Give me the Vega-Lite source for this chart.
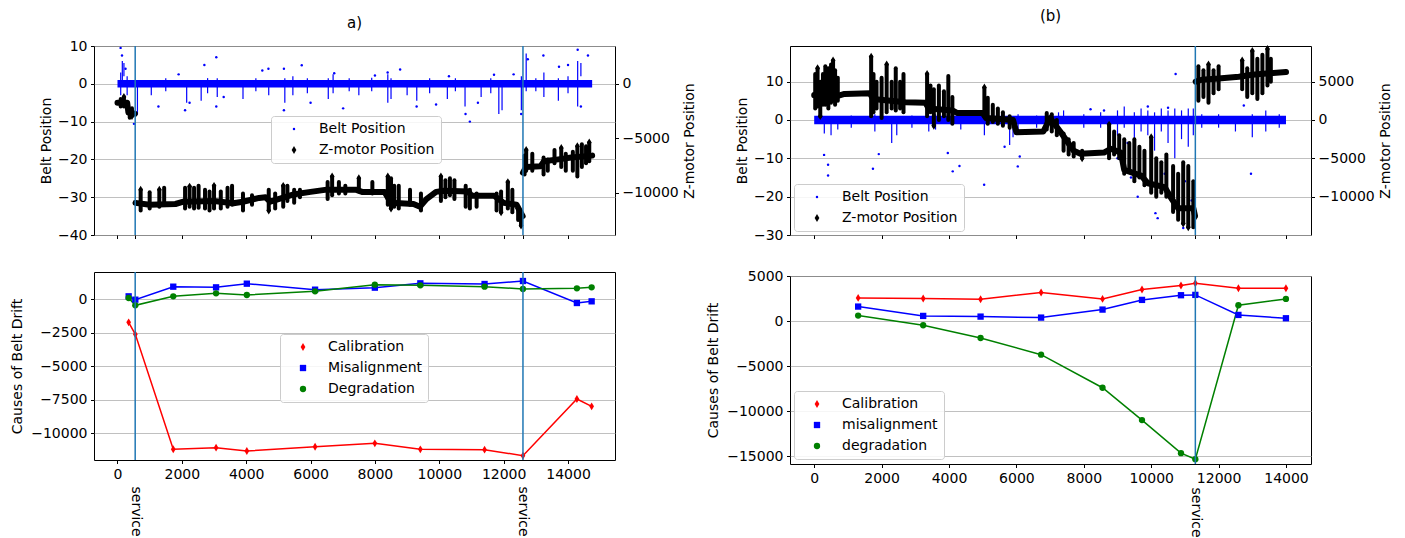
{
  "$schema": "https://vega.github.io/schema/vega-lite/v6.json",
  "background": "white",
  "padding": {"left": 10, "top": 8, "right": 5, "bottom": 0},
  "config": {
    "font": "DejaVu Sans",
    "view": {"stroke": "black", "strokeWidth": 1},
    "axis": {"labelFont": "DejaVu Sans", "labelFontSize": 14, "labelColor": "black", "titleFont": "DejaVu Sans", "titleFontSize": 14, "titleFontWeight": "normal", "titleColor": "black", "tickColor": "black", "tickSize": 3.5, "labelPadding": 3.5, "domain": false, "grid": false, "gridColor": "#b0b0b0", "gridWidth": 0.8, "labelFlush": false, "labelOverlap": false},
    "legend": {"orient": "none", "labelFont": "DejaVu Sans", "labelFontSize": 14, "labelColor": "black", "strokeColor": "#cccccc", "fillColor": "rgba(255,255,255,0.85)", "padding": 6, "cornerRadius": 3, "rowPadding": 7, "symbolOffset": 10, "labelOffset": 18, "symbolStrokeWidth": 0, "labelLimit": 300},
    "title": {"font": "DejaVu Sans", "fontSize": 15, "fontWeight": "normal", "color": "black"}
  },
  "datasets": {
    "svcA": [{"x": 550}, {"x": 12600}],
    "svcB": [{"x": 11310}],
    "aBand": [{"x": 0, "x2": 14750, "y": -1.0, "y2": 1.0}],
    "bBand": [{"x": 0, "x2": 14000, "y": -1.1, "y2": 1.1}],
    "aBlueSpk": [
      {"x": 100, "y": -3, "y2": 3}, {"x": 150, "y": 1, "y2": 6}, {"x": 200, "y": 2, "y2": 5.5}, {"x": 300, "y": -3, "y2": 2},
      {"x": 620, "y": -8, "y2": 1}, {"x": 1050, "y": -3, "y2": 1}, {"x": 1500, "y": -2, "y2": 1.5}, {"x": 2150, "y": -5, "y2": 1},
      {"x": 2600, "y": -4.5, "y2": 1}, {"x": 2800, "y": -2.5, "y2": 1.5}, {"x": 3100, "y": -3.5, "y2": 1.5}, {"x": 3900, "y": -4, "y2": 1},
      {"x": 4300, "y": -2, "y2": 1.5}, {"x": 4700, "y": -3, "y2": 1}, {"x": 5200, "y": -5, "y2": 1.5}, {"x": 5450, "y": -3, "y2": 2},
      {"x": 5900, "y": -2.5, "y2": 1.5}, {"x": 6550, "y": -4, "y2": 1.5}, {"x": 6700, "y": -2.5, "y2": 2.5}, {"x": 7200, "y": -2, "y2": 1.5},
      {"x": 7500, "y": -3, "y2": 1}, {"x": 7900, "y": -2, "y2": 1.6}, {"x": 8400, "y": -5, "y2": 2.5}, {"x": 8500, "y": -4, "y2": 1.5},
      {"x": 9000, "y": -3, "y2": 1}, {"x": 9300, "y": -4.5, "y2": 1}, {"x": 9700, "y": -2.5, "y2": 1.5}, {"x": 10250, "y": -4, "y2": 1},
      {"x": 10500, "y": -2, "y2": 1.5}, {"x": 10800, "y": -6, "y2": 1}, {"x": 11300, "y": -3.5, "y2": 1}, {"x": 11600, "y": -2.5, "y2": 1.5},
      {"x": 11850, "y": -8, "y2": 1}, {"x": 11950, "y": -7, "y2": 1}, {"x": 12550, "y": -7, "y2": 2}, {"x": 12700, "y": -2, "y2": 8},
      {"x": 13000, "y": -2, "y2": 1.5}, {"x": 13250, "y": -3.5, "y2": 3}, {"x": 13700, "y": -4.5, "y2": 1.5}, {"x": 14000, "y": -2.5, "y2": 2},
      {"x": 14300, "y": -6, "y2": 6}, {"x": 14400, "y": 2, "y2": 5.5}
    ],
    "aBlueDot": [
      {"x": 97, "y": 9.5}, {"x": 140, "y": 7.5}, {"x": 250, "y": 4}, {"x": 512, "y": -10.6}, {"x": 600, "y": -8}, {"x": 1272, "y": -6},
      {"x": 2100, "y": -7}, {"x": 2240, "y": -5}, {"x": 3070, "y": 7}, {"x": 3070, "y": -6}, {"x": 4690, "y": 4}, {"x": 5172, "y": 4},
      {"x": 5172, "y": -7}, {"x": 5726, "y": 4.9}, {"x": 6735, "y": 2.8}, {"x": 7012, "y": -6.5}, {"x": 8395, "y": 3}, {"x": 8783, "y": 3.8},
      {"x": 9295, "y": -6}, {"x": 10815, "y": -8}, {"x": 10950, "y": -10}, {"x": 12310, "y": 2.5}, {"x": 12545, "y": -8}, {"x": 12750, "y": 6.5},
      {"x": 13235, "y": 7.5}, {"x": 13720, "y": 4.5}, {"x": 14000, "y": 5}, {"x": 14300, "y": 9}, {"x": 14620, "y": 7.5}, {"x": 14400, "y": -6},
      {"x": 3300, "y": -3.5}, {"x": 4500, "y": 3.5}, {"x": 6000, "y": -5}, {"x": 9900, "y": -5.5}, {"x": 11200, "y": -5}, {"x": 2700, "y": 5},
      {"x": 1900, "y": 2.5}, {"x": 8000, "y": 2.2}, {"x": 10300, "y": 2}, {"x": 11700, "y": 2.4}
    ],
    "aZLine": [
      {"seg": 1, "x": 0, "z": -1734}, {"seg": 1, "x": 300, "z": -1734}, {"seg": 1, "x": 340, "z": -2636}, {"seg": 1, "x": 540, "z": -2740},
      {"seg": 2, "x": 560, "z": -10924}, {"seg": 2, "x": 1000, "z": -11098}, {"seg": 2, "x": 1800, "z": -11028}, {"seg": 2, "x": 2050, "z": -10820},
      {"seg": 2, "x": 3000, "z": -10751}, {"seg": 2, "x": 3600, "z": -10959}, {"seg": 2, "x": 3900, "z": -10820}, {"seg": 2, "x": 4400, "z": -10473},
      {"seg": 2, "x": 4600, "z": -10404}, {"seg": 2, "x": 4750, "z": -10820}, {"seg": 2, "x": 5500, "z": -10127}, {"seg": 2, "x": 6000, "z": -9918},
      {"seg": 2, "x": 6500, "z": -9710}, {"seg": 2, "x": 7400, "z": -9710}, {"seg": 2, "x": 7600, "z": -9918}, {"seg": 2, "x": 8300, "z": -9918},
      {"seg": 2, "x": 8500, "z": -10924}, {"seg": 2, "x": 9200, "z": -11028}, {"seg": 2, "x": 9400, "z": -11271}, {"seg": 2, "x": 9600, "z": -10577},
      {"seg": 2, "x": 9900, "z": -9918}, {"seg": 2, "x": 10150, "z": -9814}, {"seg": 2, "x": 10900, "z": -9884}, {"seg": 2, "x": 11000, "z": -10265},
      {"seg": 2, "x": 11700, "z": -10265}, {"seg": 2, "x": 12000, "z": -10924}, {"seg": 2, "x": 12400, "z": -11098}, {"seg": 2, "x": 12590, "z": -12138},
      {"seg": 3, "x": 12600, "z": -8150}, {"seg": 3, "x": 12700, "z": -7630}, {"seg": 3, "x": 13150, "z": -7560}, {"seg": 3, "x": 13250, "z": -7109},
      {"seg": 3, "x": 13700, "z": -6936}, {"seg": 3, "x": 14100, "z": -6763}, {"seg": 3, "x": 14750, "z": -6589}
    ],
    "aZSpk": [
      {"x": 100, "z": -1387, "z2": -2081}, {"x": 200, "z": -1214, "z2": -2081}, {"x": 380, "z": -2428, "z2": -3121}, {"x": 450, "z": -2254, "z2": -2948},
      {"x": 720, "z": -9710, "z2": -11618}, {"x": 1000, "z": -9953, "z2": -11444}, {"x": 1300, "z": -9710, "z2": -11271}, {"x": 1450, "z": -9537, "z2": -11098},
      {"x": 2100, "z": -9537, "z2": -11444}, {"x": 2240, "z": -9433, "z2": -11271}, {"x": 2380, "z": -9537, "z2": -11444}, {"x": 2520, "z": -9364, "z2": -11375},
      {"x": 2720, "z": -9710, "z2": -11444}, {"x": 2860, "z": -9884, "z2": -11618}, {"x": 3000, "z": -9364, "z2": -11444}, {"x": 3210, "z": -9884, "z2": -11444},
      {"x": 3420, "z": -9537, "z2": -11271}, {"x": 3560, "z": -9364, "z2": -11098}, {"x": 3900, "z": -10057, "z2": -11618}, {"x": 4180, "z": -10231, "z2": -11098},
      {"x": 4700, "z": -9710, "z2": -11618}, {"x": 4900, "z": -10057, "z2": -11444}, {"x": 5150, "z": -9364, "z2": -11271}, {"x": 5280, "z": -9364, "z2": -10751},
      {"x": 5490, "z": -9710, "z2": -10924}, {"x": 5670, "z": -9710, "z2": -10404}, {"x": 6530, "z": -9017, "z2": -10577}, {"x": 6670, "z": -8497, "z2": -10231},
      {"x": 6880, "z": -9017, "z2": -10057}, {"x": 7080, "z": -9364, "z2": -10057}, {"x": 7500, "z": -8670, "z2": -9884}, {"x": 7920, "z": -9017, "z2": -10057},
      {"x": 8400, "z": -8497, "z2": -11098}, {"x": 8500, "z": -8670, "z2": -11444}, {"x": 8600, "z": -9364, "z2": -11271}, {"x": 8740, "z": -9364, "z2": -11444},
      {"x": 9090, "z": -9710, "z2": -11098}, {"x": 9430, "z": -10057, "z2": -11618}, {"x": 10050, "z": -8497, "z2": -10751}, {"x": 10190, "z": -8843, "z2": -10404},
      {"x": 10330, "z": -8670, "z2": -10231}, {"x": 10470, "z": -8843, "z2": -10577}, {"x": 10820, "z": -9364, "z2": -11271}, {"x": 10950, "z": -9710, "z2": -11444},
      {"x": 11160, "z": -10057, "z2": -11271}, {"x": 11780, "z": -10057, "z2": -11618}, {"x": 11920, "z": -9884, "z2": -11791}, {"x": 12130, "z": -9017, "z2": -11444},
      {"x": 12270, "z": -9710, "z2": -11791}, {"x": 12450, "z": -11444, "z2": -12485}, {"x": 12540, "z": -11791, "z2": -13005},
      {"x": 12650, "z": -8323, "z2": -6589}, {"x": 12700, "z": -7976, "z2": -6069}, {"x": 12890, "z": -7976, "z2": -6416}, {"x": 13240, "z": -8323, "z2": -6763},
      {"x": 13370, "z": -7976, "z2": -6936}, {"x": 13580, "z": -7283, "z2": -6069}, {"x": 13790, "z": -7630, "z2": -5896}, {"x": 13930, "z": -7976, "z2": -6416},
      {"x": 14150, "z": -7976, "z2": -6242}, {"x": 14290, "z": -8497, "z2": -5722}, {"x": 14430, "z": -7630, "z2": -5549}, {"x": 14560, "z": -7283, "z2": -5722},
      {"x": 14660, "z": -7109, "z2": -5375}
    ],
    "aZDot": [
      {"x": 200, "z": -1214}, {"x": 450, "z": -2948}, {"x": 720, "z": -9710}, {"x": 1300, "z": -9710}, {"x": 2240, "z": -9433},
      {"x": 3000, "z": -9364}, {"x": 5150, "z": -9364}, {"x": 6670, "z": -8497}, {"x": 7500, "z": -8670}, {"x": 8400, "z": -8497},
      {"x": 10050, "z": -8497}, {"x": 12130, "z": -9017}, {"x": 12540, "z": -13005}, {"x": 14290, "z": -5722}, {"x": 14660, "z": -5375},
      {"x": 13790, "z": -5896}, {"x": 12700, "z": -6069}, {"x": 8500, "z": -11444}, {"x": 4700, "z": -11618}, {"x": 11920, "z": -11791}
    ],
    "bBlueSpk": [
      {"x": 300, "y": -3.5, "y2": 1}, {"x": 500, "y": -4, "y2": 1}, {"x": 700, "y": -2.5, "y2": 1}, {"x": 1100, "y": -2, "y2": 1.2},
      {"x": 1800, "y": -3, "y2": 1.5}, {"x": 2300, "y": -6, "y2": 1}, {"x": 2450, "y": -4, "y2": 1}, {"x": 2900, "y": -2, "y2": 1.2},
      {"x": 3400, "y": -3, "y2": 1}, {"x": 3600, "y": -2.5, "y2": 1.5}, {"x": 4350, "y": -2.5, "y2": 1}, {"x": 5050, "y": -4, "y2": 1},
      {"x": 5800, "y": -6.5, "y2": 1}, {"x": 5900, "y": -4.5, "y2": 1}, {"x": 6050, "y": -3, "y2": 1.5}, {"x": 6600, "y": -2, "y2": 1.2},
      {"x": 7250, "y": -3, "y2": 2}, {"x": 7400, "y": -1, "y2": 2.5}, {"x": 8000, "y": -2, "y2": 1.5}, {"x": 8500, "y": -2, "y2": 2},
      {"x": 9000, "y": -4, "y2": 2.5}, {"x": 9200, "y": -2, "y2": 3.5}, {"x": 9500, "y": -7, "y2": 2}, {"x": 9700, "y": -3, "y2": 3},
      {"x": 9900, "y": -4, "y2": 2.5}, {"x": 10100, "y": -8, "y2": 2}, {"x": 10300, "y": -3, "y2": 3}, {"x": 10500, "y": -6, "y2": 2.5},
      {"x": 10700, "y": -10, "y2": 3}, {"x": 10900, "y": -5, "y2": 2.5}, {"x": 11100, "y": -7, "y2": 3}, {"x": 11250, "y": -4, "y2": 3},
      {"x": 11500, "y": -2, "y2": 1.5}, {"x": 12000, "y": -2, "y2": 1.5}, {"x": 12500, "y": -3, "y2": 1}, {"x": 13000, "y": -4.5, "y2": 1.5},
      {"x": 13400, "y": -3, "y2": 2.5}, {"x": 13800, "y": -2, "y2": 1.5}
    ],
    "bBlueDot": [
      {"x": 293, "y": -9.1}, {"x": 412, "y": -11.7}, {"x": 412, "y": -14.5}, {"x": 1743, "y": -12.7}, {"x": 1916, "y": -8.9},
      {"x": 3965, "y": -8.6}, {"x": 4111, "y": -13.4}, {"x": 4311, "y": -12}, {"x": 5043, "y": -16.9}, {"x": 6041, "y": -12.1},
      {"x": 10725, "y": 12}, {"x": 10192, "y": -25.6}, {"x": 10126, "y": -24.3}, {"x": 10951, "y": -28.2}, {"x": 12961, "y": -14},
      {"x": 13294, "y": 7.1}, {"x": 12748, "y": 3.8}, {"x": 9000, "y": -10}, {"x": 9400, "y": -15}, {"x": 9600, "y": -20},
      {"x": 9800, "y": -12}, {"x": 10000, "y": -17}, {"x": 10400, "y": -14}, {"x": 10600, "y": -20}, {"x": 10800, "y": -22},
      {"x": 11000, "y": -16}, {"x": 11200, "y": -21}, {"x": 8950, "y": -8}, {"x": 9300, "y": -6}, {"x": 5650, "y": -7},
      {"x": 6100, "y": -9.5}, {"x": 9900, "y": 3.5}, {"x": 10500, "y": 3.2}, {"x": 8600, "y": 2.5}, {"x": 8200, "y": 2.8}
    ],
    "bZLine": [
      {"seg": 1, "x": 0, "z": 3250}, {"seg": 1, "x": 700, "z": 3150}, {"seg": 1, "x": 900, "z": 3400}, {"seg": 1, "x": 1650, "z": 3500},
      {"seg": 1, "x": 1750, "z": 2750}, {"seg": 1, "x": 2700, "z": 2300}, {"seg": 1, "x": 3300, "z": 2250}, {"seg": 1, "x": 3400, "z": 1500},
      {"seg": 1, "x": 4100, "z": 1250}, {"seg": 1, "x": 4250, "z": 900}, {"seg": 1, "x": 5000, "z": 900}, {"seg": 1, "x": 5100, "z": 250},
      {"seg": 1, "x": 5900, "z": 0}, {"seg": 1, "x": 6000, "z": -1600}, {"seg": 1, "x": 6800, "z": -1500}, {"seg": 1, "x": 7000, "z": 250},
      {"seg": 1, "x": 7300, "z": -1500}, {"seg": 1, "x": 7700, "z": -4000}, {"seg": 1, "x": 7900, "z": -4400}, {"seg": 1, "x": 8600, "z": -4250},
      {"seg": 1, "x": 8800, "z": -3750}, {"seg": 1, "x": 9100, "z": -4250}, {"seg": 1, "x": 9200, "z": -6500}, {"seg": 1, "x": 9700, "z": -7250},
      {"seg": 1, "x": 9900, "z": -8250}, {"seg": 1, "x": 10400, "z": -8750}, {"seg": 1, "x": 10600, "z": -10250}, {"seg": 1, "x": 10800, "z": -11500},
      {"seg": 1, "x": 11250, "z": -11500}, {"seg": 1, "x": 11300, "z": -12500},
      {"seg": 2, "x": 11320, "z": 5000}, {"seg": 2, "x": 11500, "z": 5250}, {"seg": 2, "x": 12000, "z": 5400}, {"seg": 2, "x": 12600, "z": 5650},
      {"seg": 2, "x": 13000, "z": 5900}, {"seg": 2, "x": 13500, "z": 6100}, {"seg": 2, "x": 14000, "z": 6250}
    ],
    "bZSpk": [
      {"x": 30, "z": 1500, "z2": 6000}, {"x": 100, "z": 1750, "z2": 6750}, {"x": 180, "z": 500, "z2": 5000}, {"x": 260, "z": 2000, "z2": 6000},
      {"x": 330, "z": 2000, "z2": 7000}, {"x": 420, "z": 1500, "z2": 6750}, {"x": 500, "z": 2250, "z2": 7250}, {"x": 560, "z": 2500, "z2": 7750},
      {"x": 620, "z": 2000, "z2": 6500}, {"x": 700, "z": 2500, "z2": 5500}, {"x": 1690, "z": 500, "z2": 8250}, {"x": 1760, "z": 1000, "z2": 6000},
      {"x": 1850, "z": 1500, "z2": 5000}, {"x": 2000, "z": 250, "z2": 5500}, {"x": 2150, "z": 1000, "z2": 7250}, {"x": 2300, "z": 1500, "z2": 5000},
      {"x": 2420, "z": 1250, "z2": 6750}, {"x": 2550, "z": 1500, "z2": 5000}, {"x": 2650, "z": 1000, "z2": 6000}, {"x": 3350, "z": 500, "z2": 6000},
      {"x": 3450, "z": 1000, "z2": 4500}, {"x": 3550, "z": -750, "z2": 4000}, {"x": 3700, "z": 0, "z2": 4500}, {"x": 3850, "z": 500, "z2": 3750},
      {"x": 3980, "z": 0, "z2": 5750}, {"x": 4100, "z": -500, "z2": 3000}, {"x": 5050, "z": 500, "z2": 4250}, {"x": 5150, "z": -500, "z2": 2900},
      {"x": 5300, "z": -250, "z2": 2000}, {"x": 5450, "z": -500, "z2": 1500}, {"x": 5600, "z": -750, "z2": 1000}, {"x": 5800, "z": -1000, "z2": 500},
      {"x": 6900, "z": -1250, "z2": 900}, {"x": 7050, "z": -1500, "z2": 750}, {"x": 7200, "z": -2000, "z2": 0}, {"x": 7400, "z": -4000, "z2": -1750},
      {"x": 7550, "z": -4500, "z2": -2500}, {"x": 7700, "z": -4750, "z2": -3000}, {"x": 7950, "z": -5000, "z2": -4000}, {"x": 8750, "z": -5000, "z2": -600},
      {"x": 8900, "z": -4500, "z2": -1500}, {"x": 9050, "z": -5000, "z2": -2000}, {"x": 9200, "z": -7000, "z2": -2500}, {"x": 9350, "z": -6750, "z2": -3000},
      {"x": 9500, "z": -8000, "z2": -2500}, {"x": 9650, "z": -7500, "z2": -3500}, {"x": 9800, "z": -8500, "z2": -4000}, {"x": 10000, "z": -9500, "z2": -2250},
      {"x": 10150, "z": -10000, "z2": -5000}, {"x": 10300, "z": -9500, "z2": -5500}, {"x": 10450, "z": -10000, "z2": -4500}, {"x": 10650, "z": -12000, "z2": -6000},
      {"x": 10800, "z": -13000, "z2": -7000}, {"x": 10950, "z": -13500, "z2": -5500}, {"x": 11100, "z": -14000, "z2": -6000}, {"x": 11250, "z": -14000, "z2": -8000},
      {"x": 11400, "z": 2500, "z2": 7000}, {"x": 11550, "z": 3000, "z2": 6500}, {"x": 11700, "z": 2250, "z2": 7250}, {"x": 11850, "z": 3500, "z2": 6500},
      {"x": 12000, "z": 4000, "z2": 7000}, {"x": 12700, "z": 4000, "z2": 7750}, {"x": 12850, "z": 3000, "z2": 6750}, {"x": 13000, "z": 3500, "z2": 9000},
      {"x": 13150, "z": 2750, "z2": 8000}, {"x": 13300, "z": 3500, "z2": 8500}, {"x": 13450, "z": 4500, "z2": 9250}, {"x": 13550, "z": 5000, "z2": 8000}
    ],
    "bZDot": [
      {"x": 560, "z": 7750}, {"x": 1690, "z": 8250}, {"x": 2150, "z": 7250}, {"x": 3350, "z": 6000}, {"x": 5050, "z": 4250},
      {"x": 7950, "z": -5000}, {"x": 8750, "z": -600}, {"x": 10000, "z": -2250}, {"x": 10950, "z": -13500}, {"x": 11100, "z": -14000},
      {"x": 11300, "z": -12750}, {"x": 13000, "z": 9000}, {"x": 13450, "z": 9250}, {"x": 12700, "z": 7750}, {"x": 11700, "z": 7250},
      {"x": 100, "z": 6750}, {"x": 180, "z": 500}, {"x": 3550, "z": -750}
    ],
    "aCause": [
      {"series": "Calibration", "x": 347, "v": -1737}, {"series": "Calibration", "x": 554, "v": -2630}, {"series": "Calibration", "x": 1733, "v": -11190},
      {"series": "Calibration", "x": 3063, "v": -11067}, {"series": "Calibration", "x": 4019, "v": -11315}, {"series": "Calibration", "x": 6140, "v": -10993},
      {"series": "Calibration", "x": 7997, "v": -10744}, {"series": "Calibration", "x": 9411, "v": -11191}, {"series": "Calibration", "x": 11407, "v": -11216},
      {"series": "Calibration", "x": 12599, "v": -11662}, {"series": "Calibration", "x": 14276, "v": -7444}, {"series": "Calibration", "x": 14734, "v": -7990},
      {"series": "Misalignment", "x": 347, "v": 199}, {"series": "Misalignment", "x": 554, "v": -50}, {"series": "Misalignment", "x": 1733, "v": 918},
      {"series": "Misalignment", "x": 3063, "v": 868}, {"series": "Misalignment", "x": 4019, "v": 1141}, {"series": "Misalignment", "x": 6140, "v": 695},
      {"series": "Misalignment", "x": 7997, "v": 844}, {"series": "Misalignment", "x": 9411, "v": 1166}, {"series": "Misalignment", "x": 11407, "v": 1117},
      {"series": "Misalignment", "x": 12599, "v": 1340}, {"series": "Misalignment", "x": 14276, "v": -298}, {"series": "Misalignment", "x": 14734, "v": -174},
      {"series": "Degradation", "x": 347, "v": 74}, {"series": "Degradation", "x": 554, "v": -471}, {"series": "Degradation", "x": 1733, "v": 199},
      {"series": "Degradation", "x": 3063, "v": 422}, {"series": "Degradation", "x": 4019, "v": 298}, {"series": "Degradation", "x": 6140, "v": 571},
      {"series": "Degradation", "x": 7997, "v": 1067}, {"series": "Degradation", "x": 9411, "v": 1017}, {"series": "Degradation", "x": 11407, "v": 918},
      {"series": "Degradation", "x": 12599, "v": 744}, {"series": "Degradation", "x": 14276, "v": 794}, {"series": "Degradation", "x": 14734, "v": 868}
    ],
    "bCause": [
      {"series": "Calibration", "x": 1304, "v": 2602}, {"series": "Calibration", "x": 3234, "v": 2528}, {"series": "Calibration", "x": 4937, "v": 2454},
      {"series": "Calibration", "x": 6733, "v": 3197}, {"series": "Calibration", "x": 8556, "v": 2491}, {"series": "Calibration", "x": 9727, "v": 3532},
      {"series": "Calibration", "x": 10884, "v": 3978}, {"series": "Calibration", "x": 11310, "v": 4238}, {"series": "Calibration", "x": 12588, "v": 3680},
      {"series": "Calibration", "x": 13998, "v": 3680},
      {"series": "misalignment", "x": 1304, "v": 1636}, {"series": "misalignment", "x": 3234, "v": 595}, {"series": "misalignment", "x": 4937, "v": 520},
      {"series": "misalignment", "x": 6733, "v": 409}, {"series": "misalignment", "x": 8556, "v": 1301}, {"series": "misalignment", "x": 9727, "v": 2379},
      {"series": "misalignment", "x": 10884, "v": 2900}, {"series": "misalignment", "x": 11310, "v": 2937}, {"series": "misalignment", "x": 12588, "v": 706},
      {"series": "misalignment", "x": 13998, "v": 335},
      {"series": "degradation", "x": 1304, "v": 632}, {"series": "degradation", "x": 3234, "v": -446}, {"series": "degradation", "x": 4937, "v": -1859},
      {"series": "degradation", "x": 6733, "v": -3717}, {"series": "degradation", "x": 8556, "v": -7398}, {"series": "degradation", "x": 9727, "v": -11004},
      {"series": "degradation", "x": 10884, "v": -14684}, {"series": "degradation", "x": 11310, "v": -15353}, {"series": "degradation", "x": 12588, "v": 1784},
      {"series": "degradation", "x": 13998, "v": 2491}
    ]
  },
  "hconcat": [
    {
      "vconcat": [
        {
          "width": 521, "height": 189,
          "title": {"text": "a)", "offset": 8},
          "encoding": {"x": {"field": "x", "type": "quantitative", "scale": {"domain": [-730, 15460], "nice": false, "zero": false}, "axis": {"values": [0, 2000, 4000, 6000, 8000, 10000, 12000, 14000, 550, 12600], "labels": false, "title": null}}},
          "layer": [
            {"encoding": {"y": {"field": "y", "type": "quantitative", "scale": {"domain": [-40, 10], "nice": false, "zero": false}, "axis": {"values": [10, 0, -10, -20, -30, -40], "grid": true, "title": "Belt Position", "titlePadding": 4}}},
             "layer": [
              {"data": {"name": "aBand"}, "mark": {"type": "rect", "color": "#0000ff"}, "encoding": {"x2": {"field": "x2"}, "y2": {"field": "y2"}}},
              {"data": {"name": "aBlueSpk"}, "mark": {"type": "rule", "color": "#0000ff", "strokeWidth": 1.2}, "encoding": {"y2": {"field": "y2"}}},
              {"data": {"name": "aBlueDot"}, "transform": [{"calculate": "'Belt Position'", "as": "series"}], "mark": {"type": "point", "filled": true, "opacity": 1},
               "encoding": {
                 "color": {"field": "series", "type": "nominal", "scale": {"domain": ["Belt Position", "Z-motor Position"], "range": ["#0000ff", "#000000"]}, "legend": {"title": null, "legendX": 177, "legendY": 70}},
                 "shape": {"field": "series", "type": "nominal", "scale": {"domain": ["Belt Position", "Z-motor Position"], "range": ["circle", "M0,-1.25L0.75,0L0,1.25L-0.75,0Z"]}, "legend": {"title": null, "legendX": 177, "legendY": 70}},
                 "size": {"field": "series", "type": "nominal", "scale": {"domain": ["Belt Position", "Z-motor Position"], "range": [6, 40]}, "legend": {"title": null, "legendX": 177, "legendY": 70}}}}
            ]},
            {"encoding": {"y": {"field": "z", "type": "quantitative", "scale": {"domain": [-13872, 3468], "nice": false, "zero": false}, "axis": {"orient": "right", "values": [0, -5000, -10000], "format": "d", "title": "Z-motor Position", "titleAngle": 270, "titleBaseline": "top", "titlePadding": 4}}},
             "layer": [
              {"data": {"name": "aZLine"}, "mark": {"type": "line", "color": "black", "strokeWidth": 6, "strokeJoin": "round", "strokeCap": "round"}, "encoding": {"detail": {"field": "seg", "type": "nominal"}}},
              {"data": {"name": "aZSpk"}, "mark": {"type": "rule", "color": "black", "strokeWidth": 4, "strokeCap": "round"}, "encoding": {"y2": {"field": "z2"}}},
              {"data": {"name": "aZDot"}, "transform": [{"calculate": "'Z-motor Position'", "as": "series"}], "mark": {"type": "point", "filled": true, "opacity": 1},
               "encoding": {
                 "color": {"field": "series", "type": "nominal", "scale": {"domain": ["Belt Position", "Z-motor Position"], "range": ["#0000ff", "#000000"]}, "legend": {"title": null, "legendX": 177, "legendY": 70}},
                 "shape": {"field": "series", "type": "nominal", "scale": {"domain": ["Belt Position", "Z-motor Position"], "range": ["circle", "M0,-1.25L0.75,0L0,1.25L-0.75,0Z"]}, "legend": {"title": null, "legendX": 177, "legendY": 70}},
                 "size": {"field": "series", "type": "nominal", "scale": {"domain": ["Belt Position", "Z-motor Position"], "range": [6, 40]}, "legend": {"title": null, "legendX": 177, "legendY": 70}}}}
            ]},
            {"data": {"name": "svcA"}, "mark": {"type": "rule", "color": "#1f77b4", "strokeWidth": 1.5}, "encoding": {}}
          ],
          "resolve": {"scale": {"y": "independent"}}
        },
        {
          "width": 521, "height": 188,
          "layer": [
            {"data": {"name": "aCause"},
             "encoding": {"x": {"field": "x", "type": "quantitative", "scale": {"domain": [-730, 15460], "nice": false, "zero": false}, "axis": {"values": [0, 2000, 4000, 6000, 8000, 10000, 12000, 14000], "format": "d", "title": null}},
                          "y": {"field": "v", "type": "quantitative", "scale": {"domain": [-11985, 2010], "nice": false, "zero": false}, "axis": {"values": [0, -2500, -5000, -7500, -10000], "format": "d", "grid": true, "title": "Causes of Belt Drift", "titlePadding": 6}}},
             "layer": [
               {"transform": [{"filter": "datum.series == 'Calibration'"}], "mark": {"type": "line", "strokeWidth": 1.5, "color": "#ff0000"}},
               {"transform": [{"filter": "datum.series == 'Misalignment'"}], "mark": {"type": "line", "strokeWidth": 1.5, "color": "#0000ff"}},
               {"transform": [{"filter": "datum.series == 'Degradation'"}], "mark": {"type": "line", "strokeWidth": 1.5, "color": "#008000"}},
               {"mark": {"type": "point", "filled": true, "opacity": 1, "size": 40}, "encoding": {
                 "color": {"field": "series", "type": "nominal", "scale": {"domain": ["Calibration", "Misalignment", "Degradation"], "range": ["#ff0000", "#0000ff", "#008000"]}, "legend": {"title": null, "legendX": 186, "legendY": 62, "symbolSize": 40}},
                 "shape": {"field": "series", "type": "nominal", "scale": {"domain": ["Calibration", "Misalignment", "Degradation"], "range": ["M0,-1.25L0.75,0L0,1.25L-0.75,0Z", "square", "circle"]}, "legend": {"title": null, "legendX": 186, "legendY": 62, "symbolSize": 40}}}}
             ]},
            {"data": {"name": "svcA"}, "mark": {"type": "rule", "color": "#1f77b4", "strokeWidth": 1.5},
             "encoding": {"x": {"field": "x", "type": "quantitative", "scale": {"domain": [-730, 15460], "nice": false, "zero": false}, "axis": {"orient": "bottom", "values": [550, 12600], "labelExpr": "'service'", "labelAngle": 90, "labelAlign": "left", "labelBaseline": "middle", "labelPadding": 26, "ticks": false, "title": null}}}}
          ],
          "resolve": {"scale": {"x": "independent"}}
        }
      ],
      "spacing": 27,
      "resolve": {"scale": {"color": "independent", "shape": "independent", "size": "independent"}}
    },
    {
      "vconcat": [
        {
          "width": 521, "height": 189,
          "title": {"text": "(b)", "offset": 21},
          "encoding": {"x": {"field": "x", "type": "quantitative", "scale": {"domain": [-718, 14742], "nice": false, "zero": false}, "axis": {"values": [0, 2000, 4000, 6000, 8000, 10000, 12000, 14000, 11310], "labels": false, "title": null}}},
          "layer": [
            {"encoding": {"y": {"field": "y", "type": "quantitative", "scale": {"domain": [-30, 19.3], "nice": false, "zero": false}, "axis": {"values": [10, 0, -10, -20, -30], "grid": true, "title": "Belt Position", "titlePadding": 4}}},
             "layer": [
              {"data": {"name": "bBand"}, "mark": {"type": "rect", "color": "#0000ff"}, "encoding": {"x2": {"field": "x2"}, "y2": {"field": "y2"}}},
              {"data": {"name": "bBlueSpk"}, "mark": {"type": "rule", "color": "#0000ff", "strokeWidth": 1.2}, "encoding": {"y2": {"field": "y2"}}},
              {"data": {"name": "bBlueDot"}, "transform": [{"calculate": "'Belt Position'", "as": "series"}], "mark": {"type": "point", "filled": true, "opacity": 1},
               "encoding": {
                 "color": {"field": "series", "type": "nominal", "scale": {"domain": ["Belt Position", "Z-motor Position"], "range": ["#0000ff", "#000000"]}, "legend": {"title": null, "legendX": 4, "legendY": 138}},
                 "shape": {"field": "series", "type": "nominal", "scale": {"domain": ["Belt Position", "Z-motor Position"], "range": ["circle", "M0,-1.25L0.75,0L0,1.25L-0.75,0Z"]}, "legend": {"title": null, "legendX": 4, "legendY": 138}},
                 "size": {"field": "series", "type": "nominal", "scale": {"domain": ["Belt Position", "Z-motor Position"], "range": [6, 40]}, "legend": {"title": null, "legendX": 4, "legendY": 138}}}}
            ]},
            {"encoding": {"y": {"field": "z", "type": "quantitative", "scale": {"domain": [-15000, 9650], "nice": false, "zero": false}, "axis": {"orient": "right", "values": [5000, 0, -5000, -10000], "format": "d", "title": "Z-motor Position", "titleAngle": 270, "titleBaseline": "top", "titlePadding": 4}}},
             "layer": [
              {"data": {"name": "bZLine"}, "mark": {"type": "line", "color": "black", "strokeWidth": 6, "strokeJoin": "round", "strokeCap": "round"}, "encoding": {"detail": {"field": "seg", "type": "nominal"}}},
              {"data": {"name": "bZSpk"}, "mark": {"type": "rule", "color": "black", "strokeWidth": 4, "strokeCap": "round"}, "encoding": {"y2": {"field": "z2"}}},
              {"data": {"name": "bZDot"}, "transform": [{"calculate": "'Z-motor Position'", "as": "series"}], "mark": {"type": "point", "filled": true, "opacity": 1},
               "encoding": {
                 "color": {"field": "series", "type": "nominal", "scale": {"domain": ["Belt Position", "Z-motor Position"], "range": ["#0000ff", "#000000"]}, "legend": {"title": null, "legendX": 4, "legendY": 138}},
                 "shape": {"field": "series", "type": "nominal", "scale": {"domain": ["Belt Position", "Z-motor Position"], "range": ["circle", "M0,-1.25L0.75,0L0,1.25L-0.75,0Z"]}, "legend": {"title": null, "legendX": 4, "legendY": 138}},
                 "size": {"field": "series", "type": "nominal", "scale": {"domain": ["Belt Position", "Z-motor Position"], "range": [6, 40]}, "legend": {"title": null, "legendX": 4, "legendY": 138}}}}
            ]},
            {"data": {"name": "svcB"}, "mark": {"type": "rule", "color": "#1f77b4", "strokeWidth": 1.5}, "encoding": {}}
          ],
          "resolve": {"scale": {"y": "independent"}}
        },
        {
          "width": 521, "height": 188,
          "layer": [
            {"data": {"name": "bCause"},
             "encoding": {"x": {"field": "x", "type": "quantitative", "scale": {"domain": [-718, 14742], "nice": false, "zero": false}, "axis": {"values": [0, 2000, 4000, 6000, 8000, 10000, 12000, 14000], "format": "d", "title": null}},
                          "y": {"field": "v", "type": "quantitative", "scale": {"domain": [-15890, 5040], "nice": false, "zero": false}, "axis": {"values": [5000, 0, -5000, -10000, -15000], "format": "d", "grid": true, "title": "Causes of Belt Drift", "titlePadding": 6}}},
             "layer": [
               {"transform": [{"filter": "datum.series == 'Calibration'"}], "mark": {"type": "line", "strokeWidth": 1.5, "color": "#ff0000"}},
               {"transform": [{"filter": "datum.series == 'misalignment'"}], "mark": {"type": "line", "strokeWidth": 1.5, "color": "#0000ff"}},
               {"transform": [{"filter": "datum.series == 'degradation'"}], "mark": {"type": "line", "strokeWidth": 1.5, "color": "#008000"}},
               {"mark": {"type": "point", "filled": true, "opacity": 1, "size": 40}, "encoding": {
                 "color": {"field": "series", "type": "nominal", "scale": {"domain": ["Calibration", "misalignment", "degradation"], "range": ["#ff0000", "#0000ff", "#008000"]}, "legend": {"title": null, "legendX": 4, "legendY": 115, "symbolSize": 40}},
                 "shape": {"field": "series", "type": "nominal", "scale": {"domain": ["Calibration", "misalignment", "degradation"], "range": ["M0,-1.25L0.75,0L0,1.25L-0.75,0Z", "square", "circle"]}, "legend": {"title": null, "legendX": 4, "legendY": 115, "symbolSize": 40}}}}
             ]},
            {"data": {"name": "svcB"}, "mark": {"type": "rule", "color": "#1f77b4", "strokeWidth": 1.5},
             "encoding": {"x": {"field": "x", "type": "quantitative", "scale": {"domain": [-718, 14742], "nice": false, "zero": false}, "axis": {"orient": "bottom", "values": [11310], "labelExpr": "'service'", "labelAngle": 90, "labelAlign": "left", "labelBaseline": "middle", "labelPadding": 23, "ticks": false, "title": null}}}}
          ],
          "resolve": {"scale": {"x": "independent"}}
        }
      ],
      "spacing": 25,
      "resolve": {"scale": {"color": "independent", "shape": "independent", "size": "independent"}}
    }
  ],
  "spacing": 9,
  "resolve": {"scale": {"color": "independent", "shape": "independent", "size": "independent"}}
}
